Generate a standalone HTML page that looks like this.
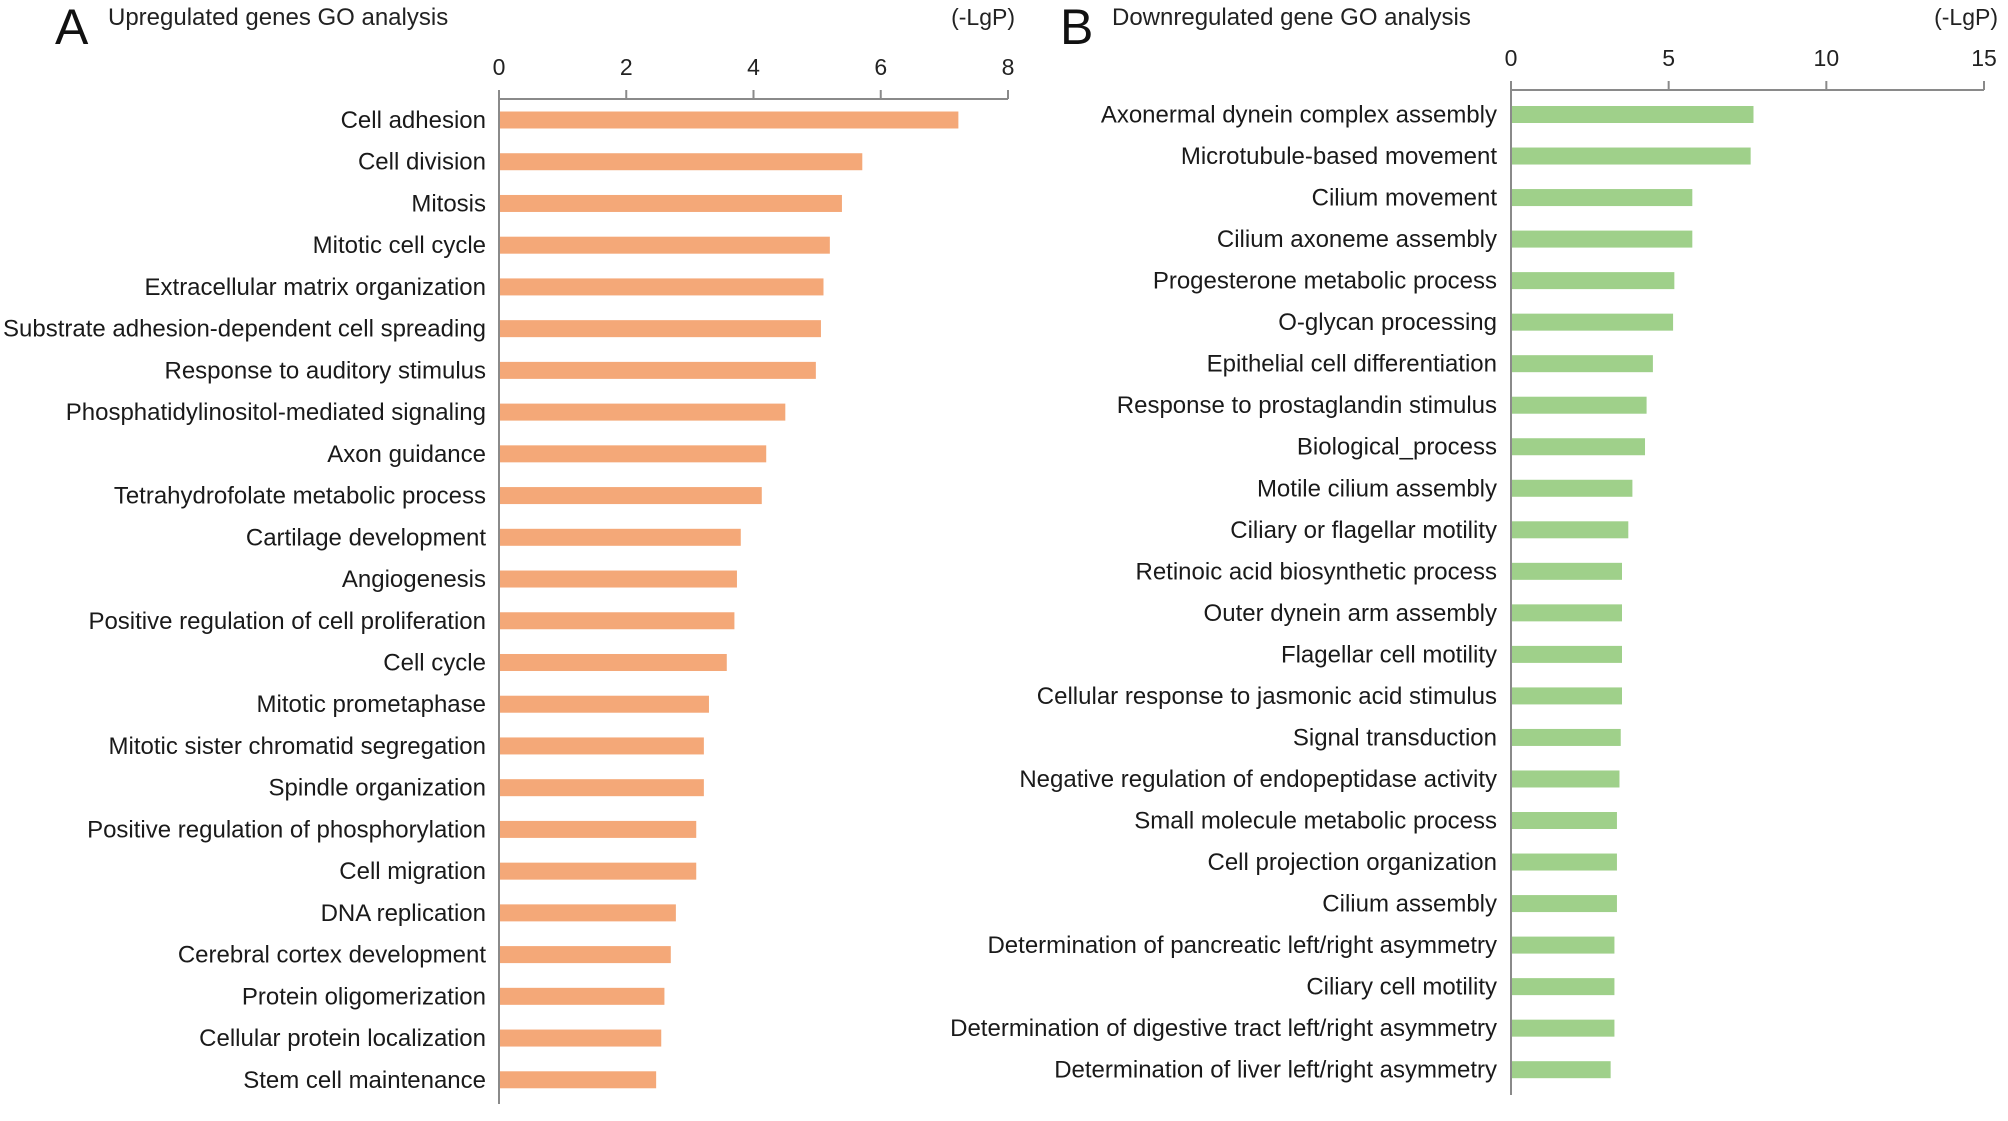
<!DOCTYPE html>
<html><head><meta charset="utf-8"><style>
html,body{margin:0;padding:0;background:#fff;}
svg{display:block;font-family:"Liberation Sans",Arial,sans-serif;}
</style></head><body>
<svg id="chart" width="2008" height="1121" viewBox="0 0 2008 1121">
<g id="panelA"></g>
<g id="panelB"></g>
</svg>
<script>
const upCategories = ["Cell adhesion","Cell division","Mitosis","Mitotic cell cycle","Extracellular matrix organization","Substrate adhesion-dependent cell spreading","Response to auditory stimulus","Phosphatidylinositol-mediated signaling","Axon guidance","Tetrahydrofolate metabolic process","Cartilage development","Angiogenesis","Positive regulation of cell proliferation","Cell cycle","Mitotic prometaphase","Mitotic sister chromatid segregation","Spindle organization","Positive regulation of phosphorylation","Cell migration","DNA replication","Cerebral cortex development","Protein oligomerization","Cellular protein localization","Stem cell maintenance"];
const upValues = [7.22,5.71,5.39,5.2,5.1,5.06,4.98,4.5,4.2,4.13,3.8,3.74,3.7,3.58,3.3,3.22,3.22,3.1,3.1,2.78,2.7,2.6,2.55,2.47];
const upTicks = [0,2,4,6,8];
const downCategories = ["Axonermal dynein complex assembly","Microtubule-based movement","Cilium movement","Cilium axoneme assembly","Progesterone metabolic process","O-glycan processing","Epithelial cell differentiation","Response to prostaglandin stimulus","Biological_process","Motile cilium assembly","Ciliary or flagellar motility","Retinoic acid biosynthetic process","Outer dynein arm assembly","Flagellar cell motility","Cellular response to jasmonic acid stimulus","Signal transduction","Negative regulation of endopeptidase activity","Small molecule metabolic process","Cell projection organization","Cilium assembly","Determination of pancreatic left/right asymmetry","Ciliary cell motility","Determination of digestive tract left/right asymmetry","Determination of liver left/right asymmetry"];
const downValues = [7.69,7.6,5.75,5.75,5.18,5.14,4.5,4.3,4.25,3.85,3.72,3.52,3.52,3.52,3.52,3.48,3.44,3.36,3.36,3.36,3.28,3.28,3.28,3.16];
const downTicks = [0,5,10,15];

const NS="http://www.w3.org/2000/svg";
function mk(parent,tag,attrs,text){const e=document.createElementNS(NS,tag);for(const k in attrs)e.setAttribute(k,attrs[k]);if(text!==undefined)e.textContent=text;parent.appendChild(e);return e;}

function drawPanel(g,cfg,cats,vals,ticks){
  const xs=v=>cfg.x0+(v-cfg.min)/(cfg.max-cfg.min)*(cfg.x1-cfg.x0);
  const ys=i=>cfg.yFirst+i*cfg.step;
  let t=mk(g,'text',{x:cfg.letterX,y:44,'font-size':50,fill:'#111'},cfg.letter);
  
  
  t=mk(g,'text',{x:cfg.titleX,y:25,'font-size':24,fill:'#222'},cfg.title);
  
  
  t=mk(g,'text',{x:cfg.unitX,y:25,'font-size':23,fill:'#222','text-anchor':'end'},'(-LgP)');
  
  
  let l=mk(g,'line',{x1:cfg.x0,y1:cfg.axisY,x2:cfg.x1,y2:cfg.axisY,stroke:'#8a8a8a','stroke-width':2});
  
  
  l=mk(g,'line',{x1:cfg.x0,y1:cfg.axisY,x2:cfg.x0,y2:cfg.axisBottom,stroke:'#8a8a8a','stroke-width':2});
  
  
  ticks.forEach(v=>{
    const tk=mk(g,'line',{x1:xs(v),y1:cfg.axisY,x2:xs(v),y2:cfg.axisY-9,stroke:'#8a8a8a','stroke-width':2});
    
    
    const tl=mk(g,'text',{x:xs(v),y:cfg.axisY-24,'font-size':23,fill:'#222','text-anchor':'middle'},String(v));
    
    
  });
  cats.forEach((c,i)=>{
    const y=ys(i);
    const r=mk(g,'rect',{x:cfg.x0+1,y:y-cfg.barH/2,width:Math.max(0,xs(vals[i])-cfg.x0-1),height:cfg.barH,fill:cfg.color});
    
    
    const lb=mk(g,'text',{x:cfg.labelX,y:y+8,'font-size':24,fill:'#1a1a1a','text-anchor':'end'},c);
    
    
  });
}
drawPanel(document.getElementById('panelA'),{letter:'A',letterX:55,title:'Upregulated genes GO analysis',titleX:108,unitX:1015,x0:499,x1:1008,min:0,max:8,axisY:99,axisBottom:1104,yFirst:120,step:41.73,barH:17,color:'#f4a878',labelX:486},upCategories,upValues,upTicks);
drawPanel(document.getElementById('panelB'),{letter:'B',letterX:1060,title:'Downregulated gene GO analysis',titleX:1112,unitX:1998,x0:1511,x1:1984,min:0,max:15,axisY:90,axisBottom:1095,yFirst:114.5,step:41.53,barH:17,color:'#9fd08a',labelX:1497},downCategories,downValues,downTicks);
</script>
</body></html>
